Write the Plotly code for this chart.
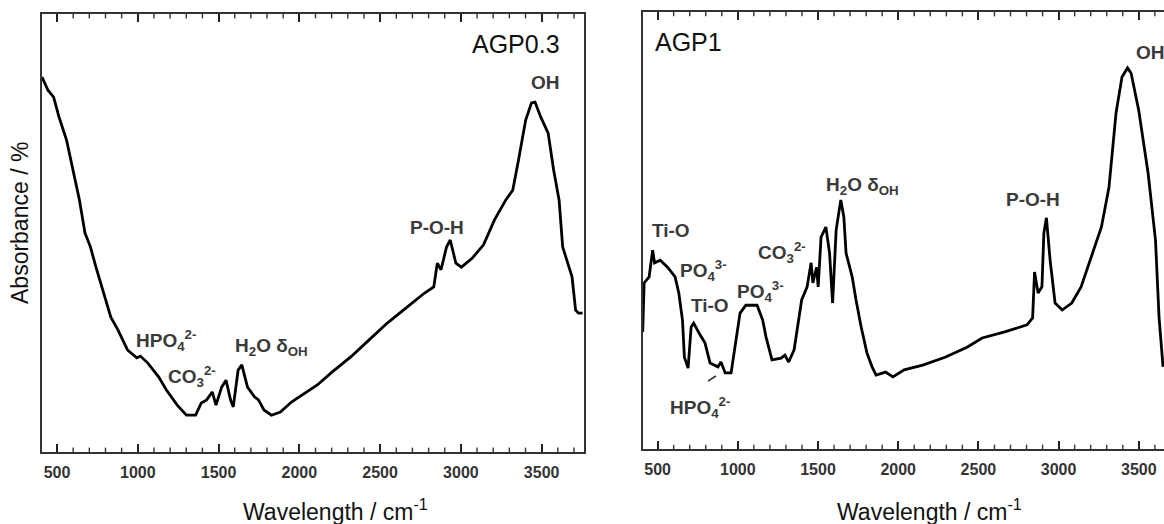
import plotly.graph_objects as go

# ---------------- data ----------------
agp03_wn = [407, 444, 479, 512, 559, 605, 639, 673, 707, 741, 788, 833, 877, 936, 994, 1016,
            1062, 1130, 1176, 1244, 1301, 1358, 1393, 1426, 1461, 1484, 1519, 1546, 1574, 1591,
            1621, 1644, 1679, 1722, 1747, 1781, 1827, 1883, 1951, 2019, 2111, 2204, 2318, 2432,
            2546, 2661, 2775, 2832, 2854, 2877, 2911, 2934, 2969, 3003, 3071, 3140, 3208, 3277,
            3321, 3357, 3401, 3437, 3459, 3494, 3540, 3574, 3608, 3630, 3667, 3688, 3710, 3728, 3753]
agp03_abs = [85.6, 82.6, 81.0, 76.5, 71.2, 63.7, 57.5, 50.0, 46.8, 42.2, 36.3, 30.8, 27.9, 23.3,
             21.5, 21.9, 20.3, 17.1, 14.2, 10.7, 8.4, 8.4, 11.2, 11.9, 13.7, 10.7, 14.8, 16.4,
             11.9, 10.3, 18.7, 19.9, 14.8, 12.6, 11.9, 9.6, 8.4, 9.1, 11.4, 13.0, 15.3, 18.3,
             21.7, 25.6, 29.5, 32.9, 36.3, 37.7, 43.1, 41.6, 46.8, 48.4, 43.1, 42.2, 44.3, 47.3,
             53.0, 57.5, 59.8, 66.7, 75.8, 79.7, 79.9, 76.5, 72.8, 64.4, 57.5, 46.8, 42.2, 40.0,
             32.4, 31.7, 31.7]

agp1_wn = [407, 416, 447, 469, 481, 516, 562, 609, 632, 655, 667, 690, 709, 725, 759, 795, 827,
           876, 895, 921, 958, 981, 1014, 1050, 1120, 1155, 1176, 1213, 1270, 1294, 1317, 1351,
           1398, 1432, 1457, 1468, 1491, 1501, 1519, 1549, 1572, 1591, 1613, 1642, 1661, 1675,
           1713, 1737, 1769, 1805, 1837, 1862, 1921, 1967, 2037, 2153, 2292, 2429, 2523, 2664,
           2803, 2838, 2850, 2872, 2896, 2908, 2924, 2947, 2978, 3022, 3082, 3140, 3197, 3267,
           3314, 3358, 3395, 3430, 3452, 3499, 3558, 3604, 3626, 3651]
agp1_abs = [26.8, 38.0, 39.4, 45.5, 42.6, 43.2, 41.6, 39.4, 35.7, 29.5, 21.0, 18.5, 27.9, 28.8,
            26.5, 24.3, 19.7, 18.8, 19.9, 17.4, 17.4, 22.7, 31.1, 32.9, 32.9, 29.5, 25.6, 20.4,
            20.8, 21.5, 19.9, 22.7, 34.1, 37.1, 42.6, 38.0, 41.6, 37.1, 48.5, 50.8, 44.8, 33.4,
            50.1, 57.0, 53.1, 44.8, 39.4, 34.1, 27.9, 22.0, 18.8, 16.9, 17.6, 16.5, 18.1, 19.2,
            21.0, 23.3, 25.4, 26.8, 28.4, 30.0, 40.5, 35.7, 37.1, 49.4, 52.9, 43.2, 33.4, 31.8,
            33.4, 37.1, 43.2, 50.8, 59.9, 76.9, 85.1, 87.2, 86.0, 77.6, 63.1, 47.8, 30.2, 18.8]

tick_vals = [500, 1000, 1500, 2000, 2500, 3000, 3500]
tick_text = ["500", "1000", "1500", "2000", "2500", "3000", "3500"]
minor_vals = [v for v in range(500, 3800, 100) if v % 500 != 0]

W, H = 1164, 524


def px(x):
    return x / W


def py(y):
    return 1 - y / H


fig = go.Figure()
fig.add_trace(go.Scatter(x=agp03_wn, y=agp03_abs, mode="lines",
                         line=dict(color="#000", width=2.8), xaxis="x", yaxis="y",
                         showlegend=False))
fig.add_trace(go.Scatter(x=agp1_wn, y=agp1_abs, mode="lines",
                         line=dict(color="#000", width=2.8), xaxis="x2", yaxis="y2",
                         showlegend=False))

tickfont = dict(family="Liberation Sans, Arial", size=16, color="#333", weight="bold")
xcommon = dict(tickmode="array", tickvals=tick_vals, ticktext=tick_text, ticks="inside",
               ticklen=8, tickwidth=1.6, tickcolor="#222", showline=True, linecolor="#333",
               linewidth=1.8, mirror="ticks", showgrid=False, zeroline=False,
               tickfont=tickfont, ticklabelstandoff=5)

fig.update_layout(
    width=W, height=H, margin=dict(l=0, r=0, t=0, b=0),
    paper_bgcolor="white", plot_bgcolor="white",
    xaxis=dict(domain=[px(42), px(584)], range=[407, 3762], anchor="y", **xcommon),
    yaxis=dict(domain=[py(452), py(14)], range=[0, 100], showticklabels=False, ticks="",
               showline=True, linecolor="#333", linewidth=1.8, mirror=True,
               showgrid=False, zeroline=False, anchor="x"),
    xaxis2=dict(domain=[px(642.7), 1.0], range=[407, 3657], anchor="y2", **xcommon),
    yaxis2=dict(domain=[py(449), py(12)], range=[0, 100], showticklabels=False, ticks="",
                showline=True, linecolor="#333", linewidth=1.8, mirror=False,
                showgrid=False, zeroline=False, anchor="x2"),
)

# minor ticks (every 100 cm-1), top and bottom of each frame
for xa, ya in (("x", "y"), ("x2", "y2")):
    for v in minor_vals:
        fig.add_shape(type="line", xref=xa, yref=ya + " domain", x0=v, x1=v, y0=0, y1=0.01,
                      line=dict(color="#333", width=1.4))
        fig.add_shape(type="line", xref=xa, yref=ya + " domain", x0=v, x1=v, y0=0.99, y1=1,
                      line=dict(color="#333", width=1.4))

lab = dict(family="Liberation Sans, Arial", size=19, color="#3a3a3a", weight="bold")
big = dict(family="Liberation Sans, Arial", size=25, color="#111")
ttl = dict(family="Liberation Sans, Arial", size=23, color="#111")

annots = [
    # left panel
    (516, 44, "AGP0.3", "center", big),
    (545, 83, "OH", "center", lab),
    (437, 227, "P-O-H", "center", lab),
    (134, 340, "HPO<sub>4</sub><sup>2-</sup>", "left", lab),
    (166, 376, "CO<sub>3</sub><sup>2-</sup>", "left", lab),
    (233, 347, "H<sub>2</sub>O δ<sub>OH</sub>", "left", lab),
    # right panel
    (653, 42, "AGP1", "left", big),
    (1134, 52, "OH", "left", lab),
    (824, 186, "H<sub>2</sub>O δ<sub>OH</sub>", "left", lab),
    (1004, 200, "P-O-H", "left", lab),
    (650, 230, "Ti-O", "left", lab),
    (678, 270, "PO<sub>4</sub><sup>3-</sup>", "left", lab),
    (689, 305, "Ti-O", "left", lab),
    (735, 291, "PO<sub>4</sub><sup>3-</sup>", "left", lab),
    (756, 252, "CO<sub>3</sub><sup>2-</sup>", "left", lab),
    (668, 407, "HPO<sub>4</sub><sup>2-</sup>", "left", lab),
    # axis titles
    (335, 510, "Wavelength / cm<sup>-1</sup>", "center", ttl),
    (929, 510, "Wavelength / cm<sup>-1</sup>", "center", ttl),
]
for x, y, t, xa, f in annots:
    fig.add_annotation(x=px(x), y=py(y), xref="paper", yref="paper", text=t,
                       showarrow=False, xanchor=xa, yanchor="middle", font=f)

fig.add_annotation(x=px(20), y=py(223), xref="paper", yref="paper", text="Absorbance / %",
                   textangle=-90, showarrow=False, xanchor="center", yanchor="middle",
                   font=ttl)

fig.add_shape(type="line", xref="paper", yref="paper", x0=px(708), y0=py(381), x1=px(716),
              y1=py(376), line=dict(color="#333", width=1.5))

fig.write_html("out.html")
